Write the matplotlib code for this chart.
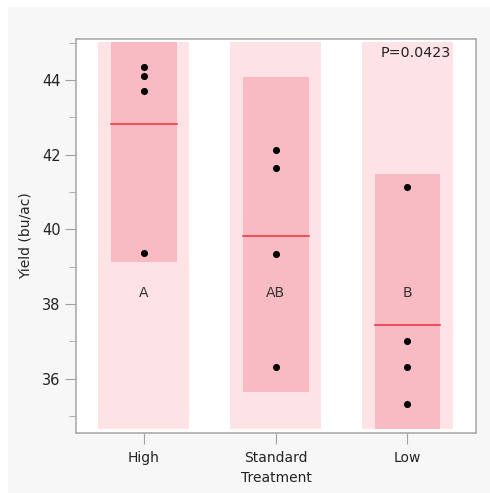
import matplotlib
matplotlib.use("Agg")
import matplotlib.pyplot as plt
from matplotlib.patches import Rectangle

categories = ["High", "Standard", "Low"]
points = [
    [44.36, 44.11, 43.71, 39.36],
    [42.13, 41.64, 39.35, 36.32],
    [41.14, 37.02, 36.32, 35.33],
]
means = [42.83, 39.83, 37.45]
ci_low = [39.13, 35.65, 33.40]
ci_high = [46.50, 44.07, 41.49]
letters = ["A", "AB", "B"]
letter_y = 38.3
band_low, band_high = 34.64, 45.03
p_text = "P=0.0423"

fig = plt.figure(figsize=(4.9, 4.93), dpi=100)
fig.patch.set_facecolor("white")
fig.patches.append(Rectangle((8/490, 0), 1 - 8/490, 1 - 7/493, transform=fig.transFigure,
                             facecolor="#f7f7f7", edgecolor="none", zorder=-10))
ax = fig.add_axes([76/490, 1 - 433/493, 400/490, 394/493])
ax.set_facecolor("white")

ax.set_xlim(-0.515, 2.52)
ax.set_ylim(34.546, 45.10)

outer_w = 0.69
inner_w = 0.50
for i, cat in enumerate(categories):
    ax.add_patch(Rectangle((i - outer_w/2, band_low), outer_w, band_high - band_low,
                           facecolor="#fde2e6", edgecolor="none", zorder=1))
    lo = max(ci_low[i], band_low)
    hi = min(ci_high[i], band_high)
    ax.add_patch(Rectangle((i - inner_w/2, lo), inner_w, hi - lo,
                           facecolor="#f9bbc3", edgecolor="none", zorder=2))
    ax.plot([i - inner_w/2, i + inner_w/2], [means[i], means[i]], color="#f03c4c",
            lw=1.2, zorder=3)
    ax.scatter([i]*len(points[i]), points[i], s=26, color="black", zorder=4, linewidths=0)
    ax.text(i, letter_y, letters[i], ha="center", va="center", fontsize=10, color="#333333",
            zorder=5)

ax.text(0.937, 0.9637, p_text, transform=ax.transAxes, ha="right", va="center",
        fontsize=10.3, color="#222222", zorder=6)

ax.set_xticks(range(len(categories)))
ax.set_xticklabels(categories, fontsize=10, color="#222222")
ax.set_yticks([36, 38, 40, 42, 44])
ax.set_yticks([35, 37, 39, 41, 43, 45], minor=True)
ax.tick_params(axis="y", which="major", length=8, color="#a0a0a0", labelsize=10.5,
               labelcolor="#222222", pad=3)
ax.tick_params(axis="y", which="minor", length=5, color="#a0a0a0")
ax.tick_params(axis="x", which="major", length=8, color="#a0a0a0", pad=5)
for s in ax.spines.values():
    s.set_color("#ababab")
    s.set_linewidth(1.2)

ax.set_xlabel("Treatment", fontsize=10, color="#222222", labelpad=4)
ax.set_ylabel("Yield (bu/ac)", fontsize=10, color="#222222", labelpad=7)

fig.savefig("out.png", dpi=100, facecolor=fig.get_facecolor())
